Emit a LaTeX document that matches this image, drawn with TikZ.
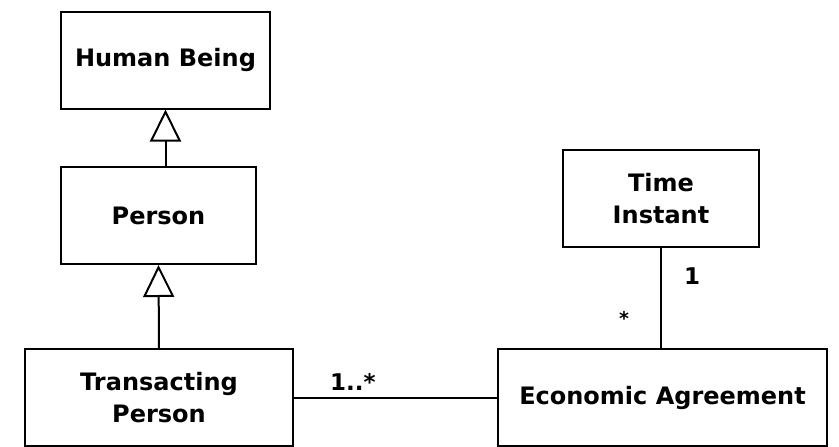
\documentclass[tikz,border=0pt]{standalone}
\usepackage{fontspec}
\setmainfont{DejaVu Sans}
\usepackage{tikz}
\usetikzlibrary{arrows.meta}

\begin{document}
\begin{tikzpicture}[x=1pt,y=-1pt,line width=2pt,
                    cls/.style={draw,align=center,inner sep=0pt,minimum height=97pt,font=\fontsize{24}{32}\selectfont\bfseries},
                    inherit/.style={-{Triangle[open,length=32pt,width=31pt,fill=white]}},
                    mult/.style={font=\fontsize{23}{25}\selectfont\bfseries}]
                    \useasboundingbox (0,0) rectangle (839,447);
                    \node [cls,minimum width=209pt] (human) at (165.5,60) {Human Being};
                    \node [cls,minimum width=195pt] (person) at (158.5,215.5) {Person};
                    \node [cls,minimum width=268pt] (transacting) at (159,397.5) {Transacting\\Person};
                    \node [cls,minimum width=196pt] (instant) at (661,198.5) {Time\\Instant};
                    \node [cls,minimum width=329pt] (agreement) at (662.5,397.5) {Economic Agreement};
                    \draw [inherit] (human.south |- person.north) -- (human.south);
                    \draw [inherit] (transacting.north) -- (person.south);
                    \draw (transacting.east |- agreement.west) -- (agreement.west) node [mult,pos=0.29,above=3pt] (many) {1..*};
                    \draw (instant.south) -- (instant.south |- agreement.north);
                    \node [mult] (one) at (692,276) {1};
                    \node [font=\fontsize{19}{20}\selectfont\bfseries] (any) at (624,318) {*};
                \end{tikzpicture}
\end{document}
